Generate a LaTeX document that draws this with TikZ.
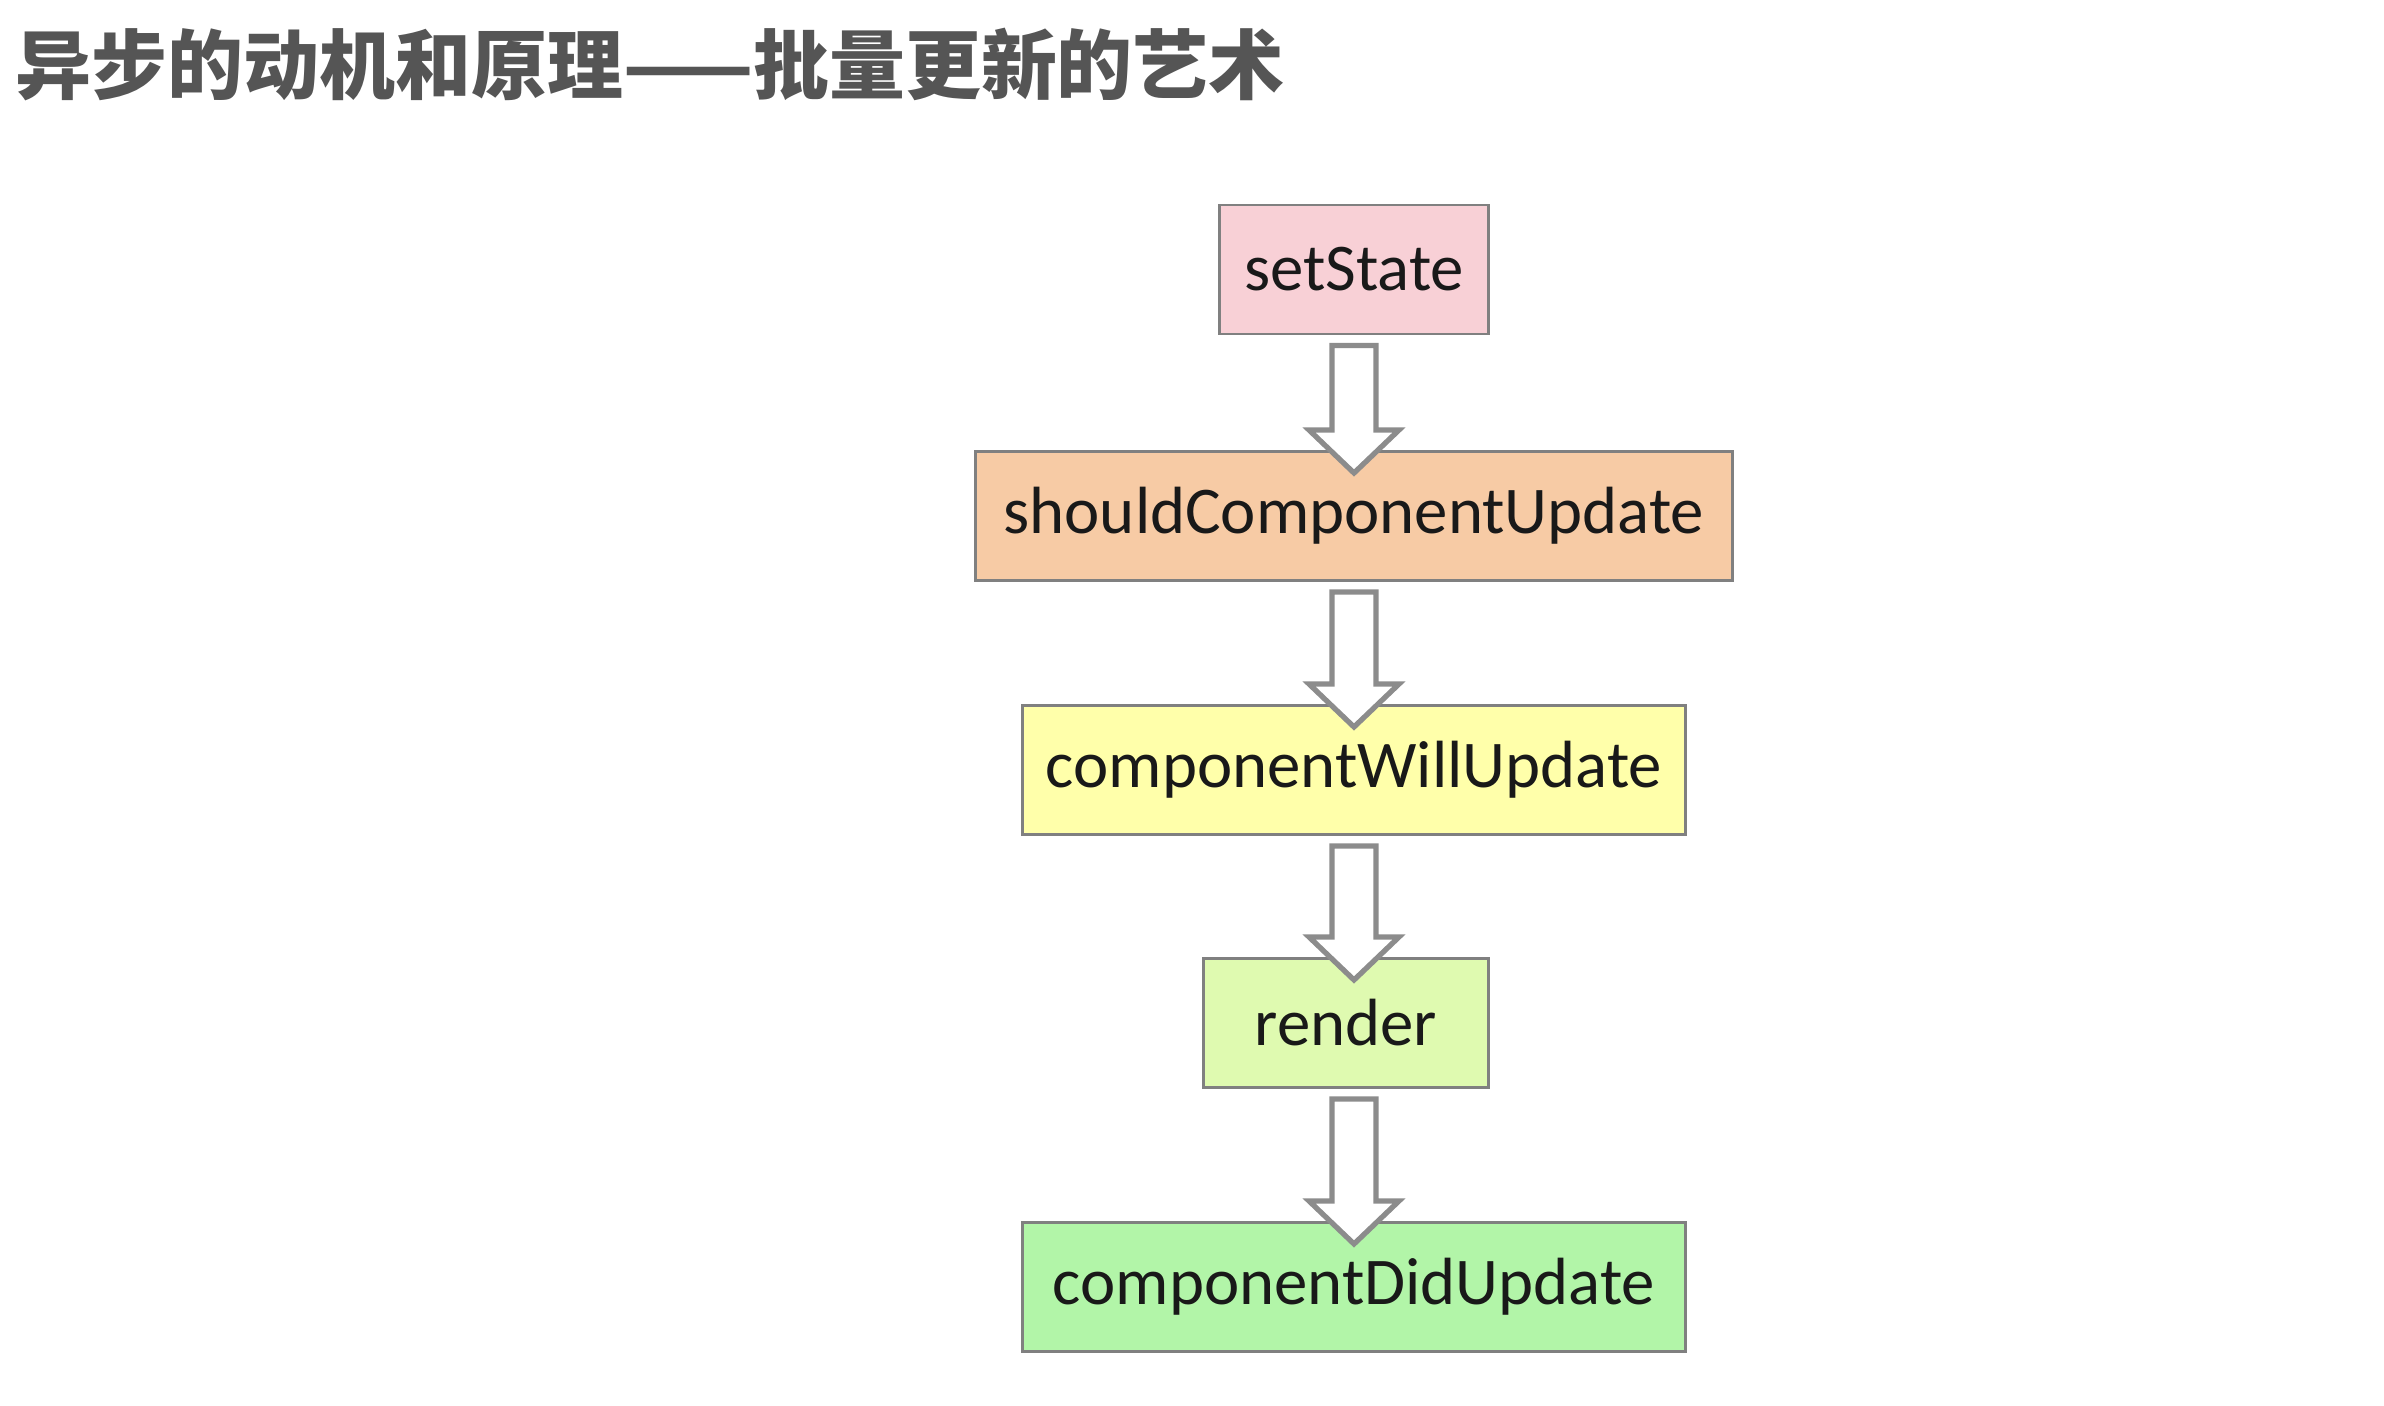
\documentclass[tikz,border=0pt]{standalone}
\usepackage{fontspec}
\setmainfont{Carlito}
\newfontfamily\cjk{Noto Sans CJK SC}
\usepackage{xcolor}
\usepackage{tikz}
\usetikzlibrary{arrows.meta,calc,positioning}

\definecolor{setpink}{RGB}{248,208,214}
\definecolor{shouldorange}{RGB}{247,203,165}
\definecolor{willyellow}{RGB}{255,255,170}
\definecolor{renderlime}{RGB}{223,250,176}
\definecolor{didgreen}{RGB}{178,245,168}
\definecolor{boxgray}{RGB}{128,128,128}
\definecolor{titlegray}{RGB}{85,85,85}

\begin{document}
\begin{tikzpicture}[
  box/.style={draw=boxgray,line width=0.85pt,minimum height=1.29cm,inner xsep=0.2cm,
    align=center,font=\fontsize{19}{22}\selectfont,text=black!90},
  hollow/.style={draw=black!45,line width=1.5pt,fill=white,line join=miter},
  node distance=1.21cm
]
\useasboundingbox (0,0) rectangle (23.84,-14.06);
\node[anchor=base west,text=titlegray,inner sep=0pt,font=\cjk\bfseries\fontsize{21.6}{24}\selectfont] (title) at (0.15,-0.94) {异步的动机和原理——批量更新的艺术};
\node[box,fill=setpink,minimum width=2.69cm] (set) at (13.54,-2.695) {setState};
\node[box,fill=shouldorange,minimum width=7.57cm,below=1.145cm of set] (should) {shouldComponentUpdate};
\node[box,fill=willyellow,minimum width=6.63cm,below=1.22cm of should] (will) {componentWillUpdate};
\node[box,fill=renderlime,minimum width=2.85cm,below=of will,xshift=-0.08cm] (render) {render};
\node[box,fill=didgreen,minimum width=6.63cm,below=1.32cm of render,xshift=0.08cm] (did) {componentDidUpdate};
% hollow block arrows between the steps, kept on the centre column
\foreach \a/\b in {set/should,should/will,will/render,render/did}
  \draw[hollow] ($(\a.south -| set)+(-0.22,-0.1)$) -- ($(\b.north -| set)+(-0.22,0.2)$)
    -- ($(\b.north -| set)+(-0.45,0.2)$) -- ($(\b.north -| set)+(0,-0.23)$)
    -- ($(\b.north -| set)+(0.45,0.2)$) -- ($(\b.north -| set)+(0.22,0.2)$)
    -- ($(\a.south -| set)+(0.22,-0.1)$) -- cycle;
\end{tikzpicture}
\end{document}
